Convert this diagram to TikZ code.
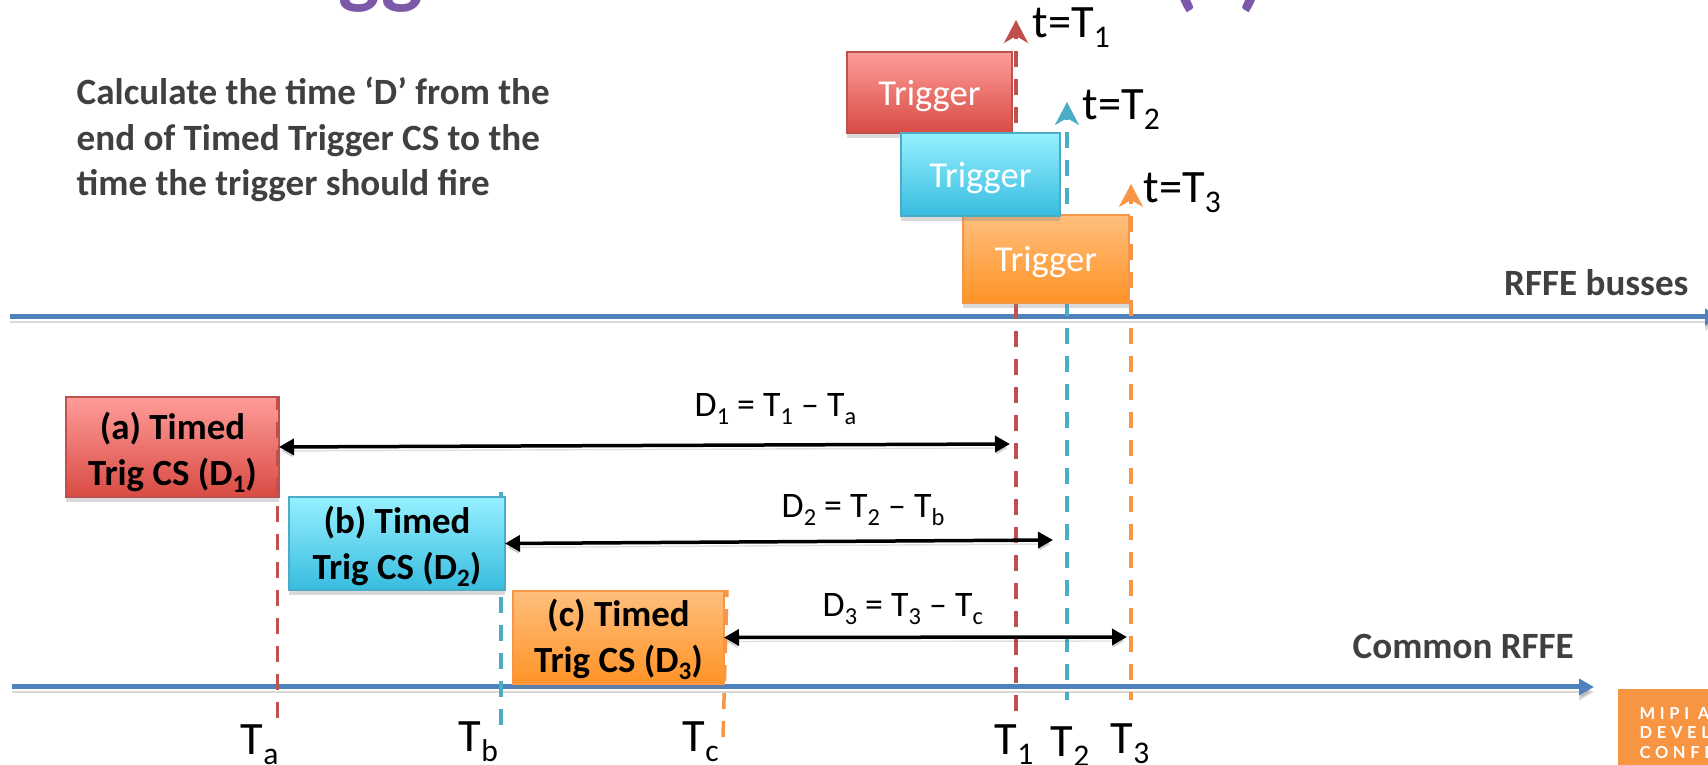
\documentclass[tikz,border=0pt]{standalone}
\usepackage{fontspec}
\setmainfont{Carlito}
\newfontfamily\logofont[LetterSpace=28]{Lato}
\usetikzlibrary{arrows.meta,shadows}
\definecolor{busblue}{HTML}{4F81BD}
\definecolor{dashred}{HTML}{C0504D}
\definecolor{dashblue}{HTML}{4BACC6}
\definecolor{dashorange}{HTML}{F79646}
\definecolor{redtop}{HTML}{FF9C99}
\definecolor{redbot}{HTML}{D84B43}
\definecolor{bluetop}{HTML}{96F0FF}
\definecolor{bluebot}{HTML}{38BCDF}
\definecolor{orangetop}{HTML}{FFBE7D}
\definecolor{orangebot}{HTML}{FF9326}
\definecolor{textgray}{HTML}{404040}
\definecolor{titlepurple}{HTML}{7B58A8}
\definecolor{logoorange}{HTML}{F79543}
\newcommand{\lowsub}[1]{\raisebox{-.2em}{\scalebox{.68}{#1}}}
\begin{document}
\begin{tikzpicture}[
  redfill/.style={top color=redtop, bottom color=redbot, draw=dashred},
  bluefill/.style={top color=bluetop, bottom color=bluebot, draw=dashblue},
  orangefill/.style={top color=orangetop, bottom color=orangebot, draw=dashorange},
  trigbox/.style={inner sep=0, outer sep=0, line width=0.02cm, text=white, text height=0.32cm, font=\fontsize{10.4}{12.5}\selectfont,
    drop shadow={shadow xshift=0cm, shadow yshift=-0.05cm, opacity=0.3}},
  timedbox/.style={trigbox, align=center, text=black, font=\fontsize{10.5}{13.1}\selectfont\bfseries},
  tdash/.style={line width=0.035cm, dash pattern=on 0.16cm off 0.12cm},
  fire/.style={tdash, -{Stealth[length=0.23cm, width=0.24cm, inset=0.07cm]}},
  bus/.style={line width=0.05cm, busblue, -{Triangle[length=0.15cm, width=0.16cm]},
    preaction={draw=black, opacity=0.15, transform canvas={yshift=-0.05cm}}},
  span/.style={line width=0.035cm, {Triangle[length=0.15cm, width=0.16cm]}-{Triangle[length=0.15cm, width=0.16cm]},
    preaction={draw=black, opacity=0.12, transform canvas={yshift=-0.04cm}}},
  lbl/.style={anchor=base west, inner sep=0, font=\fontsize{10.2}{12}\selectfont},
  bigLbl/.style={anchor=base west, inner sep=0, font=\fontsize{13.2}{15}\selectfont},
  grayLbl/.style={anchor=base west, inner sep=0, text=textgray, font=\fontsize{10.55}{12.95}\selectfont\bfseries},
  titleBit/.style={anchor=base west, inner sep=0, text=titlepurple, font=\fontsize{25}{29}\selectfont\bfseries},
  logoLbl/.style={anchor=base west, inner sep=0, text=white, font=\logofont\fontsize{4.7}{6}\selectfont\bfseries}
]
\useasboundingbox (0,0) rectangle (17.08,7.65);

\node[titleBit] (titleG) at (3.38,7.67) {gg};
\node[titleBit] (titleOpen) at (11.70,7.65) {(};
\node[titleBit] (titleClose) at (12.38,7.65) {)};

\node[grayLbl, anchor=north west, align=left] (intro) at (0.76,6.885) {Calculate the time ‘D’ from the\\end of Timed Trigger CS to the\\time the trigger should fire};

\coordinate (busTopL) at (0.10,4.48);
\coordinate (busTopR) at (17.20,4.48);
\coordinate (busComL) at (0.12,0.78);
\coordinate (busComR) at (15.94,0.78);
\draw[bus] (busTopL) -- (busTopR);
\draw[bus] (busComL) -- (busComR);

\coordinate (t1Low) at (10.16,0.54);
\coordinate (t1Top) at (10.16,7.45);
\coordinate (t2Low) at (10.67,0.65);
\coordinate (t2Top) at (10.67,6.63);
\coordinate (t3Low) at (11.31,0.65);
\coordinate (t3Top) at (11.31,5.81);
\coordinate (tbLow) at (5.01,0.40);
\coordinate (tbTop) at (5.01,2.73);
\draw[fire, dashred] (t1Low) -- (t1Top);
\draw[fire, dashblue, dash phase=0.08cm] (t2Low) -- (t2Top);
\draw[fire, dashorange, dash phase=0.08cm] (t3Low) -- (t3Top);
\draw[tdash, dashblue] (tbLow) -- (tbTop);

\node[trigbox, redfill, minimum width=1.65cm, minimum height=0.81cm] (trigRed) at (9.295,6.725) {Trigger};
\node[trigbox, orangefill, minimum width=1.66cm, minimum height=0.88cm] (trigOrange) at (10.46,5.06) {Trigger};
\node[trigbox, bluefill, minimum width=1.59cm, minimum height=0.83cm] (trigBlue) at (9.805,5.905) {Trigger};

\node[timedbox, redfill, text height=0.84cm, minimum width=2.13cm, minimum height=1.0cm] (timedA) at (1.725,3.18) {(a) Timed\\Trig CS (D\lowsub{1})};
\node[timedbox, bluefill, text height=0.79cm, minimum width=2.16cm, minimum height=0.93cm] (timedB) at (3.97,2.215) {(b) Timed\\Trig CS (D\lowsub{2})};
\node[timedbox, orangefill, text height=0.77cm, minimum width=2.11cm, minimum height=0.93cm] (timedC) at (6.185,1.275) {(c) Timed\\Trig CS (D\lowsub{3})};

\coordinate (taLow) at (2.775,0.47);
\coordinate (taTop) at (2.775,3.68);
\coordinate (tcLow) at (7.23,0.28);
\coordinate (tcTop) at (7.27,1.75);
\draw[tdash, dashred] (taLow) -- (taTop);
\draw[tdash, dashorange] (tcLow) -- (tcTop);

\coordinate (d1End) at (10.10,3.21);
\coordinate (d2End) at (10.53,2.25);
\coordinate (d3End) at (11.27,1.28);
\draw[span] (timedA.east) -- (d1End);
\draw[span] (timedB.east) -- (d2End);
\draw[span] (timedC.east) -- (d3End);

\node[lbl] (d1Lbl) at (6.94,3.48) {D\lowsub{1} = T\lowsub{1} – T\lowsub{a}};
\node[lbl] (d2Lbl) at (7.81,2.47) {D\lowsub{2} = T\lowsub{2} – T\lowsub{b}};
\node[lbl] (d3Lbl) at (8.22,1.48) {D\lowsub{3} = T\lowsub{3} – T\lowsub{c}};

\node[bigLbl] (fire1) at (10.32,7.27) {t=T\lowsub{1}};
\node[bigLbl] (fire2) at (10.82,6.45) {t=T\lowsub{2}};
\node[bigLbl] (fire3) at (11.43,5.62) {t=T\lowsub{3}};

\node[bigLbl] (lblTa) at (2.40,0.10) {T\lowsub{a}};
\node[bigLbl] (lblTb) at (4.58,0.13) {T\lowsub{b}};
\node[bigLbl] (lblTc) at (6.82,0.13) {T\lowsub{c}};
\node[bigLbl] (lblT1) at (9.94,0.10) {T\lowsub{1}};
\node[bigLbl] (lblT2) at (10.50,0.08) {T\lowsub{2}};
\node[bigLbl] (lblT3) at (11.10,0.11) {T\lowsub{3}};

\node[grayLbl] (lblBusses) at (15.035,4.69) {RFFE busses};
\node[grayLbl] (lblCommon) at (13.52,1.06) {Common RFFE};

\node[fill=logoorange, inner sep=0, outer sep=0, anchor=north west, minimum width=0.90cm, minimum height=0.76cm] (logo) at (16.18,0.76) {};
\node[logoLbl] (logoA) at (16.39,0.45) {MIPI A};
\node[logoLbl] (logoB) at (16.39,0.26) {DEVEL};
\node[logoLbl] (logoC) at (16.39,0.06) {CONFE};
\end{tikzpicture}
\end{document}
